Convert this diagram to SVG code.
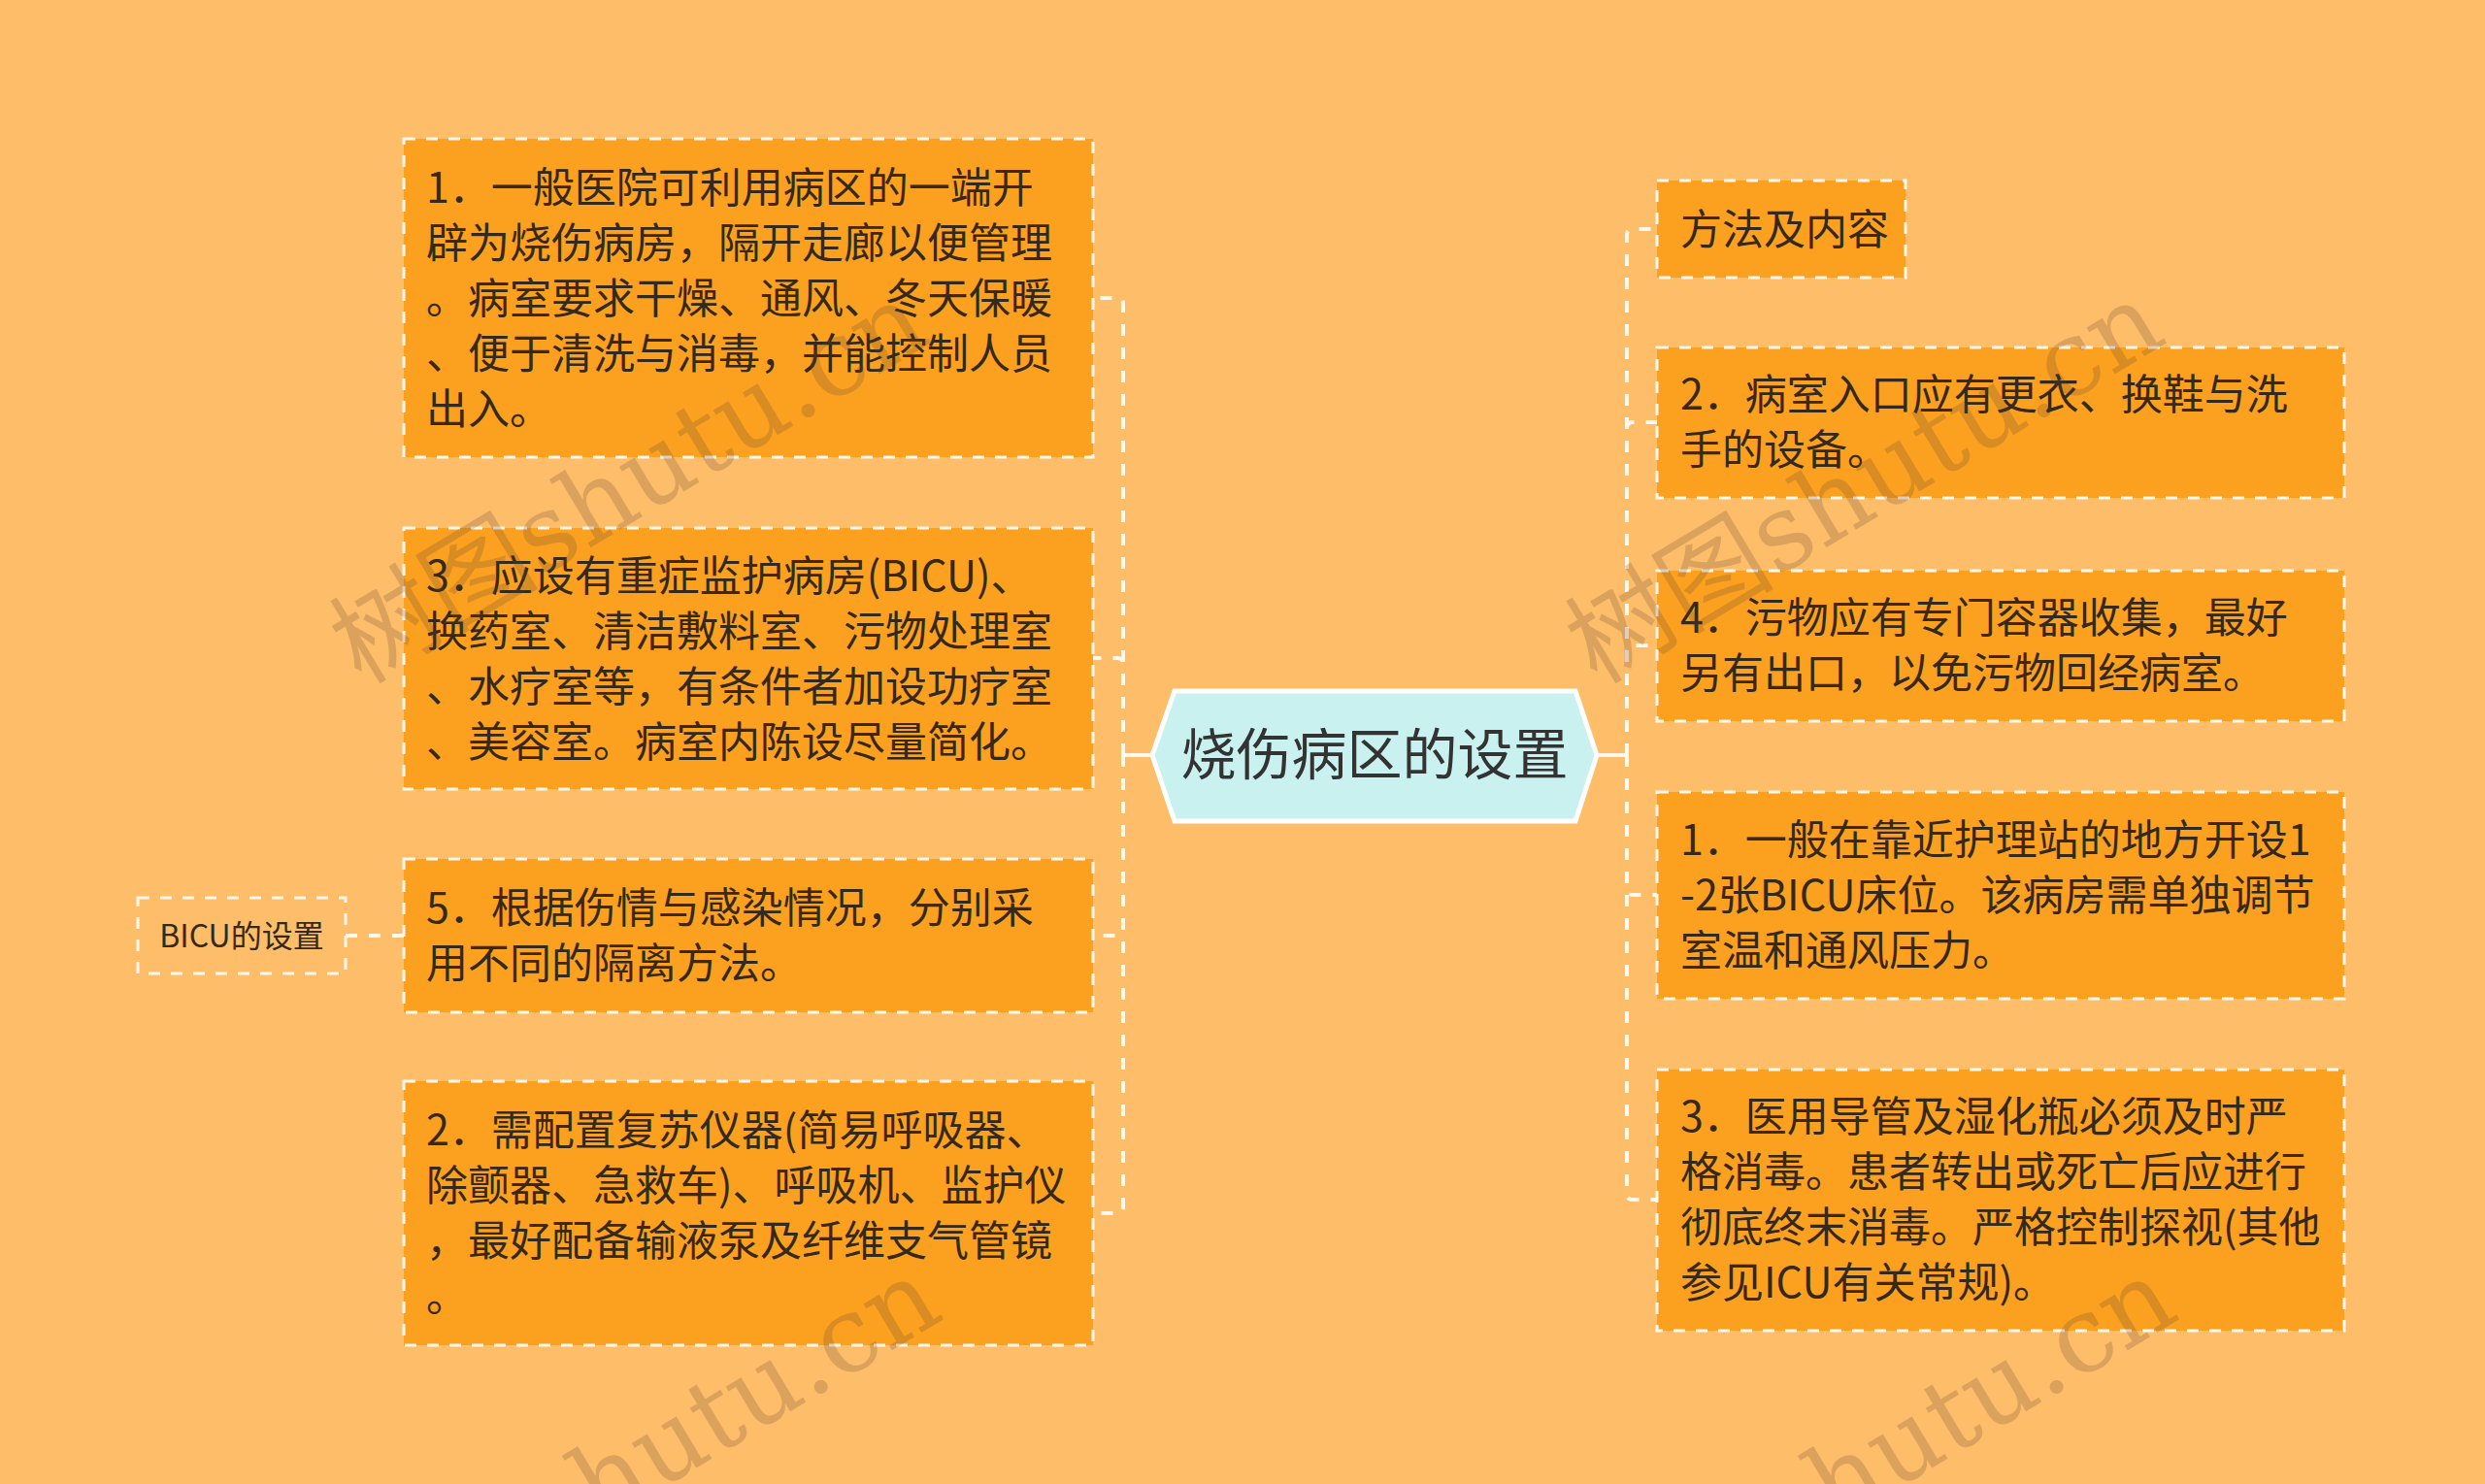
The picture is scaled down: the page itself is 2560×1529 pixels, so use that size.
<svg xmlns="http://www.w3.org/2000/svg" width="2560" height="1529" viewBox="0 0 2560 1529">
<style>
.bg{fill:#FEBD68}
.box{fill:#FCA020;stroke:#FFF8EC;stroke-width:3;stroke-dasharray:12 11}
.bicu{fill:none;stroke:#FFF8EC;stroke-width:3;stroke-dasharray:12 11}
.t{font-family:"Noto Sans CJK SC","Noto Sans",sans-serif;font-size:43px;fill:#35291B}
.ts{font-family:"Noto Sans CJK SC","Noto Sans",sans-serif;font-size:32px;fill:#35291B}
.tc{font-family:"Noto Sans CJK SC","Noto Sans",sans-serif;font-size:57px;fill:#333333}
.dash{fill:none;stroke:#FFF8EC;stroke-width:4;stroke-dasharray:12 12}
.solid{fill:none;stroke:#FFF8EC;stroke-width:4}
.wm{font-family:"DejaVu Serif","Noto Sans CJK SC",serif;font-size:108px;fill:#5A4630;fill-opacity:0.22}
</style>
<rect class="bg" x="0" y="0" width="2560" height="1529"/>

<g id="connectors">
  <path class="solid" d="M1187 778 H1157 M1157 766 V790"/>
  <path class="dash" d="M1157 778 V313 Q1157 307 1151 307 H1126"/>
  <path class="dash" d="M1157 778 V684 Q1157 678 1151 678 H1126"/>
  <path class="dash" d="M1157 778 V958 Q1157 964 1151 964 H1126"/>
  <path class="dash" d="M1157 778 V1244 Q1157 1250 1151 1250 H1126"/>
  <path class="solid" d="M1645 778 H1676 M1676 766 V790"/>
  <path class="dash" d="M1676 778 V242 Q1676 236 1682 236 H1707"/>
  <path class="dash" d="M1676 778 V441 Q1676 435 1682 435 H1707"/>
  <path class="dash" d="M1676 778 V671 Q1676 665 1682 665 H1707"/>
  <path class="dash" d="M1676 778 V916 Q1676 922 1682 922 H1707"/>
  <path class="dash" d="M1676 778 V1230 Q1676 1236 1682 1236 H1707"/>
  <path class="dash" d="M356 964 H416"/>
</g>

<g id="center">
  <polygon points="1187,778 1210,712 1623,712 1645,778 1623,846 1210,846" fill="#C9F1EF" stroke="#FFFFFF" stroke-width="5"/>
  <text class="tc" x="1416" y="798" text-anchor="middle">烧伤病区的设置</text>
</g>

<g id="L1">
  <rect class="box" x="416" y="143" width="710" height="328"/>
  <text class="t" x="439" y="209">1．一般医院可利用病区的一端开</text>
  <text class="t" x="439" y="266">辟为烧伤病房，隔开走廊以便管理</text>
  <text class="t" x="439" y="323">。病室要求干燥、通风、冬天保暖</text>
  <text class="t" x="439" y="380">、便于清洗与消毒，并能控制人员</text>
  <text class="t" x="439" y="437">出入。</text>
</g>

<g id="L2">
  <rect class="box" x="416" y="544" width="710" height="269"/>
  <text class="t" x="439" y="609">3．应设有重症监护病房(BICU)、</text>
  <text class="t" x="439" y="666">换药室、清洁敷料室、污物处理室</text>
  <text class="t" x="439" y="723">、水疗室等，有条件者加设功疗室</text>
  <text class="t" x="439" y="780">、美容室。病室内陈设尽量简化。</text>
</g>

<g id="L3">
  <rect class="box" x="416" y="885" width="710" height="158"/>
  <text class="t" x="439" y="951">5．根据伤情与感染情况，分别采</text>
  <text class="t" x="439" y="1008">用不同的隔离方法。</text>
</g>

<g id="BICU">
  <rect class="bicu" x="142" y="925" width="214" height="78"/>
  <text class="ts" x="249" y="976" text-anchor="middle">BICU的设置</text>
</g>

<g id="L4">
  <rect class="box" x="416" y="1114" width="710" height="272"/>
  <text class="t" x="439" y="1180">2．需配置复苏仪器(简易呼吸器、</text>
  <text class="t" x="439" y="1237">除颤器、急救车)、呼吸机、监护仪</text>
  <text class="t" x="439" y="1294">，最好配备输液泵及纤维支气管镜</text>
  <text class="t" x="439" y="1351">。</text>
</g>

<g id="R1">
  <rect class="box" x="1707" y="186" width="256" height="100"/>
  <text class="t" x="1731" y="252">方法及内容</text>
</g>

<g id="R2">
  <rect class="box" x="1707" y="358" width="708" height="155"/>
  <text class="t" x="1731" y="422">2．病室入口应有更衣、换鞋与洗</text>
  <text class="t" x="1731" y="479">手的设备。</text>
</g>

<g id="R3">
  <rect class="box" x="1707" y="588" width="708" height="155"/>
  <text class="t" x="1731" y="652">4．污物应有专门容器收集，最好</text>
  <text class="t" x="1731" y="709">另有出口，以免污物回经病室。</text>
</g>

<g id="R4">
  <rect class="box" x="1707" y="816" width="708" height="213"/>
  <text class="t" x="1731" y="881">1．一般在靠近护理站的地方开设1</text>
  <text class="t" x="1731" y="938">-2张BICU床位。该病房需单独调节</text>
  <text class="t" x="1731" y="995">室温和通风压力。</text>
</g>

<g id="R5">
  <rect class="box" x="1707" y="1102" width="708" height="269"/>
  <text class="t" x="1731" y="1166">3．医用导管及湿化瓶必须及时严</text>
  <text class="t" x="1731" y="1223">格消毒。患者转出或死亡后应进行</text>
  <text class="t" x="1731" y="1280">彻底终末消毒。严格控制探视(其他</text>
  <text class="t" x="1731" y="1337">参见ICU有关常规)。</text>
</g>

<g id="watermarks">
  <text class="wm" transform="translate(372,706) rotate(-31)">树图shutu.cn</text>
  <text class="wm" transform="translate(1645,706) rotate(-31)">树图shutu.cn</text>
  <text class="wm" transform="translate(385,1712) rotate(-31)">树图shutu.cn</text>
  <text class="wm" transform="translate(1658,1712) rotate(-31)">树图shutu.cn</text>
</g>
</svg>
